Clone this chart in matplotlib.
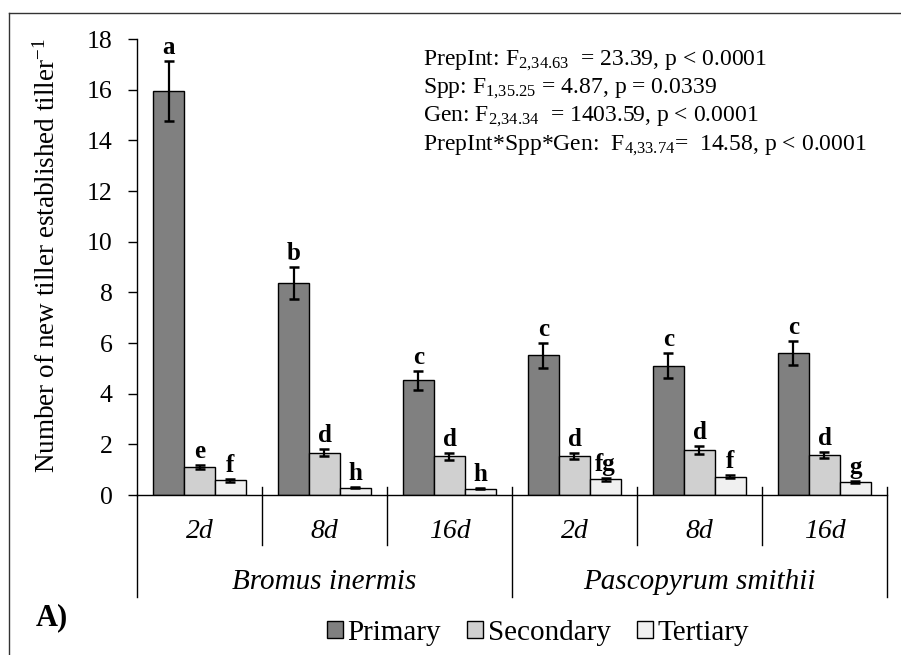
import matplotlib
matplotlib.use("Agg")
import matplotlib.pyplot as plt
import numpy as np
from matplotlib.lines import Line2D
from matplotlib.patches import Patch
import matplotlib.transforms as mtransforms

plt.rcParams['font.family'] = ['Liberation Serif', 'DejaVu Serif']
plt.rcParams['mathtext.fontset'] = 'custom'
plt.rcParams['mathtext.rm'] = 'Liberation Serif'
plt.rcParams['mathtext.it'] = 'Liberation Serif:italic'
plt.rcParams['mathtext.bf'] = 'Liberation Serif:bold'

# ---- data ----
species = ["Bromus inermis", "Pascopyrum smithii"]
intervals = ["2d", "8d", "16d", "2d", "8d", "16d"]
series = ["Primary", "Secondary", "Tertiary"]

primary = [15.95, 8.38, 4.53, 5.51, 5.10, 5.61]
primary_se = [1.17, 0.63, 0.38, 0.49, 0.50, 0.48]
secondary = [1.12, 1.67, 1.53, 1.53, 1.78, 1.57]
secondary_se = [0.08, 0.14, 0.14, 0.12, 0.15, 0.12]
tertiary = [0.58, 0.29, 0.25, 0.63, 0.72, 0.53]
tertiary_se = [0.06, 0.03, 0.03, 0.06, 0.06, 0.04]

letters_primary = ["a", "b", "c", "c", "c", "c"]
letters_secondary = ["e", "d", "d", "d", "d", "d"]
letters_tertiary = ["f", "h", "h", "fg", "f", "g"]

stats_lines = [
    r"PrepInt: F$_{2{,}34.63}$  = 23.39, p < 0.0001",
    r"Spp: F$_{1{,}35.25}$ = 4.87, p = 0.0339",
    r"Gen: F$_{2{,}34.34}$  = 1403.59, p < 0.0001",
    r"PrepInt*Spp*Gen:  F$_{4{,}33.74}$=  14.58, p < 0.0001",
]

colors = ["#808080", "#d0d0d0", "#f0f0f0"]

W, H = 901, 655
fig = plt.figure(figsize=(W / 100, H / 100), dpi=100)

# axes placement (pixel based)
ax_l, ax_r, ax_b, ax_t = 137, 887, 495, 39
ax = fig.add_axes([ax_l / W, 1 - ax_b / H, (ax_r - ax_l) / W, (ax_b - ax_t) / H])

n = len(intervals)
x = np.arange(n)
bw = 0.248
offsets = [0.128 + bw / 2, 0.5, 0.872 - bw / 2]

vals = [primary, secondary, tertiary]
errs = [primary_se, secondary_se, tertiary_se]
lets = [letters_primary, letters_secondary, letters_tertiary]

for k in range(3):
    xs = x + offsets[k]
    ax.bar(xs, vals[k], width=bw, color=colors[k], edgecolor="black",
           linewidth=1.0, label=series[k], zorder=2)
    ax.errorbar(xs, vals[k], yerr=errs[k], fmt="none", ecolor="black",
                elinewidth=1.6, capsize=3.6, capthick=1.8, zorder=3)
    for xi, v, e, t in zip(xs, vals[k], errs[k], lets[k]):
        ax.annotate(t, (xi, v + e), xytext=(0, 5), textcoords="offset points",
                    ha="center", va="baseline", fontsize=18, fontweight="bold")

ax.set_xlim(0, n)
ax.set_ylim(0, 18)
ax.set_yticks(np.arange(0, 19, 2))
ax.tick_params(axis="y", direction="out", length=6.5, width=1.0, pad=11,
               labelsize=18.5)
ax.set_xticks([])
for s in ["top", "right"]:
    ax.spines[s].set_visible(False)
ax.spines["left"].set_linewidth(1.0)
ax.spines["bottom"].set_linewidth(1.0)

ax.set_ylabel(r"Number of new tiller established tiller$^{-1}$", fontsize=19.5)
ax.yaxis.set_label_coords(-0.12, 0.526)
ax.yaxis.label.set_va("center")

# category separators and labels below the axis
trans = mtransforms.blended_transform_factory(ax.transData, ax.transAxes)
def ypx(p):
    return (ax_b - p) / (ax_b - ax_t)

for b in range(n + 1):
    long = b in (0, n // 2, n)
    y0 = ypx(487) if b > 0 else 0
    y1 = ypx(597) if long else ypx(545)
    ax.add_line(Line2D([b, b], [y0, y1], transform=trans, color="black",
                       linewidth=1.0, clip_on=False))

for i, lab in enumerate(intervals):
    ax.text(i + 0.5, ypx(532), lab, transform=trans, ha="center", va="center",
            fontsize=20, style="italic")
for j, sp in enumerate(species):
    ax.text(j * 3 + 1.5, ypx(582), sp, transform=trans, ha="center",
            va="center", fontsize=21, style="italic")

# statistics block
for i, line in enumerate(stats_lines):
    fig.text(423 / W, 1 - (65 + 28.3 * i) / H, line, ha="left",
             va="baseline", fontsize=17)

# panel tag
fig.text(52 / W, 1 - 618 / H, "A)", ha="center", va="center", fontsize=22,
         fontweight="bold")

# legend
handles = [Patch(facecolor=c, edgecolor="black", linewidth=1.0) for c in colors]
fig.legend(handles, series, loc="center", bbox_to_anchor=(538 / W, 1 - 633 / H),
           ncol=3, frameon=False, fontsize=21, handlelength=0.55,
           handleheight=0.5, handletextpad=0.15, columnspacing=0.9,
           borderpad=0, borderaxespad=0)

# outer frame (top and left edges)
fig.add_artist(Line2D([9 / W, 9 / W], [0, 1 - 13 / H], transform=fig.transFigure,
                      color="#333333", linewidth=1.0))
fig.add_artist(Line2D([9 / W, 1], [1 - 13 / H, 1 - 13 / H],
                      transform=fig.transFigure, color="#333333", linewidth=1.0))

fig.savefig("out.png", dpi=100)
